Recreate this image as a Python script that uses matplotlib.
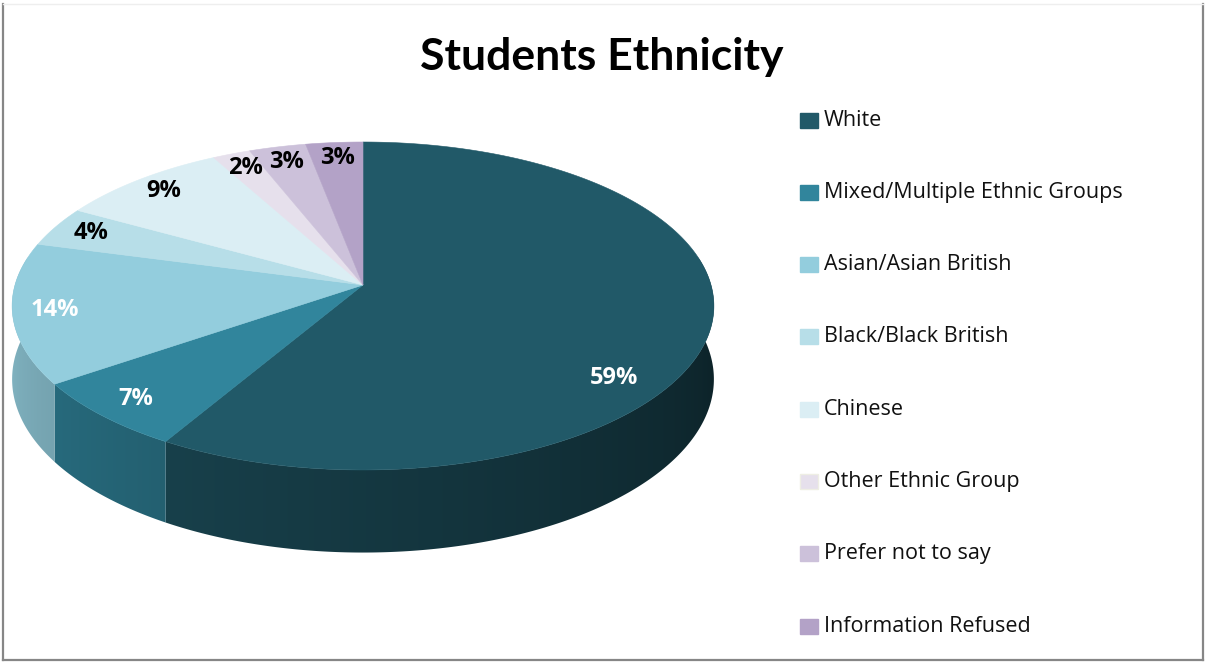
import numpy as np
import matplotlib
matplotlib.use("Agg")
import matplotlib.pyplot as plt
from matplotlib.patches import Polygon, Rectangle
from matplotlib.colors import to_rgb

# ---- data ----
categories = ["White", "Mixed/Multiple Ethnic Groups", "Asian/Asian British",
              "Black/Black British", "Chinese", "Other Ethnic Group",
              "Prefer not to say", "Information Refused"]
percent = [59, 7, 14, 4, 9, 2, 3, 3]
colors = ["#215968", "#31859C", "#93CDDD", "#B7DEE8", "#DBEEF4",
          "#E6E0EC", "#CCC1DA", "#B3A2C7"]
label_colors = ["white", "white", "white", "black", "black",
                "black", "black", "black"]
title = "Students Ethnicity"

# ---- layout of the 3-D disc (pixel space) ----
CX, CY = 363, 285          # apex of the pie on screen
RX, RY = 348, 161.3        # horizontal / vertical radii
PERSP = 0.128              # perspective strength (far side smaller)
DEPTH = 72                 # thickness of the disc
LABEL_R = 0.88             # default label radius (fraction of rim)
BIG_LABEL = (23.5, 0.86)   # angular turn / radius for the majority slice label

W, H = 1205, 662
fig = plt.figure(figsize=(W / 100, H / 100), dpi=100)
ax = fig.add_axes([0, 0, 1, 1])
ax.set_xlim(0, W)
ax.set_ylim(H, 0)
ax.axis("off")

TITLE_FONT = ["Lato", "DejaVu Sans"]
TEXT_FONT = ["Open Sans", "DejaVu Sans"]


def project(r, theta_deg, z=0.0):
    th = np.radians(theta_deg)
    u = r * np.sin(th)
    v = r * np.cos(th)
    s = 1.0 / (1.0 + PERSP * v)
    return CX + RX * u * s, CY - RY * v * s + z * s


def wall_shade(theta):
    f = 0.45 + (np.asarray(theta) - 120.0) / 140.0 * 0.42
    return np.clip(f, 0.40, 0.90)


total = float(sum(percent))
bounds = np.concatenate([[0.0], np.cumsum(percent) / total * 360.0])

# screen x -> rim angle on the visible front of the disc
t_side = np.degrees(np.arccos(-PERSP))
t_grid = np.linspace(t_side, 360.0 - t_side, 800)
x_grid = np.array([project(1.0, t)[0] for t in t_grid])
order = np.argsort(x_grid)

# ---- side walls, shaded by a horizontal gradient ----
for i, c in enumerate(colors):
    a0, a1 = bounds[i], bounds[i + 1]
    lo, hi = max(a0, 80.0), min(a1, 280.0)
    if hi <= lo:
        continue
    ts = np.linspace(lo, hi, max(int((hi - lo) * 2), 4))
    top = [project(1.0, t) for t in ts]
    bot = [project(1.0, t, DEPTH) for t in ts[::-1]]
    poly = Polygon(top + bot, closed=True, facecolor="none",
                   edgecolor="none", transform=ax.transData)
    ax.add_patch(poly)
    xs = np.array([p[0] for p in top + bot])
    ys = np.array([p[1] for p in top + bot])
    x0, x1 = xs.min() - 1, xs.max() + 1
    y0, y1 = ys.min() - 1, ys.max() + 1
    cols = np.linspace(x0, x1, 300)
    th = np.interp(cols, x_grid[order], t_grid[order])
    base = np.array(to_rgb(c))
    img = (base[None, :] * wall_shade(th)[:, None])[None, :, :]
    im = ax.imshow(img, extent=(x0, x1, y1, y0), aspect="auto",
                   interpolation="bilinear", zorder=1)
    im.set_clip_path(poly)

# ---- top faces ----
for i, c in enumerate(colors):
    a0, a1 = bounds[i], bounds[i + 1]
    ts = np.linspace(a0, a1, max(int((a1 - a0) * 2), 4))
    pts = [project(0, 0)] + [project(1.0, t) for t in ts]
    ax.add_patch(Polygon(pts, closed=True, facecolor=c, edgecolor=c,
                         linewidth=0.4, zorder=3))

# ---- percentage labels ----
for i, p in enumerate(percent):
    mid = (bounds[i] + bounds[i + 1]) / 2
    r = LABEL_R
    if p / total > 0.5:
        mid += BIG_LABEL[0]
        r = BIG_LABEL[1]
    lx, ly = project(r, mid)
    ax.text(lx, ly, f"{p}%", color=label_colors[i], fontsize=17,
            fontweight="bold", family=TEXT_FONT, ha="center", va="center",
            zorder=5)

# ---- title ----
ax.text(602, 57, title, fontsize=32, fontweight="bold", family=TITLE_FONT,
        ha="center", va="center", color="black", zorder=5)

# ---- legend ----
leg_x, leg_y0, leg_dy = 800, 120, 72.3
for i, (name, c) in enumerate(zip(categories, colors)):
    y = leg_y0 + i * leg_dy
    ax.add_patch(Rectangle((leg_x, y - 7.5), 18, 15, facecolor=c,
                           edgecolor="#EEEEE4" if i == 5 else c,
                           linewidth=1.0, zorder=4))
    ax.text(leg_x + 24, y, name, fontsize=15.5, family=TEXT_FONT,
            ha="left", va="center", color="#111111", zorder=5)

# ---- chart border ----
ax.plot([3, 3], [4, 660], color="#868686", lw=1.6, zorder=6)
ax.plot([1203, 1203], [4, 660], color="#868686", lw=1.6, zorder=6)
ax.plot([3, 1203], [660, 660], color="#868686", lw=1.6, zorder=6)
ax.plot([3, 1203], [3.5, 3.5], color="#EEEEEE", lw=1.0, zorder=6)

fig.savefig("out.png", dpi=100, facecolor="white")
